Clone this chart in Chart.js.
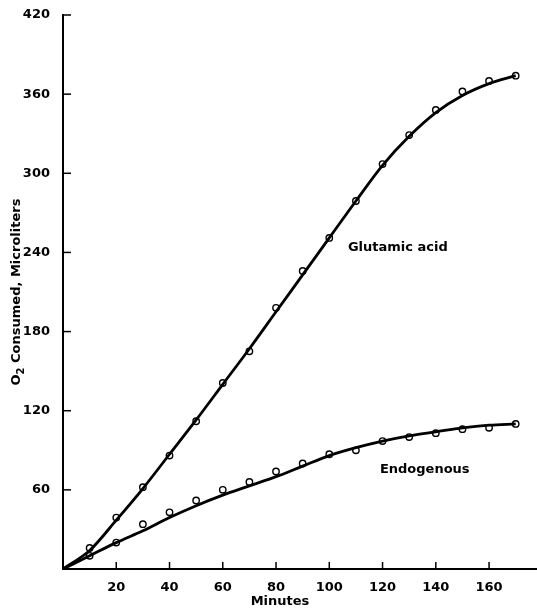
<!DOCTYPE html>
<html>
<head>
<meta charset="utf-8">
<script src="https://cdn.jsdelivr.net/npm/chart.js@4/dist/chart.umd.min.js"></script>
<style>
  html, body { margin: 0; padding: 0; background: #fff; overflow: hidden; }
  #wrap { width: 537px; height: 610px; }
</style>
</head>
<body>
<div id="wrap"><canvas id="chart"></canvas></div>
<script>
// Measured points (open circles)
const minutes = [10, 20, 30, 40, 50, 60, 70, 80, 90, 100, 110, 120, 130, 140, 150, 160, 170];
const glutamicPts = [16, 39, 62, 86, 112, 141, 165, 198, 226, 251, 279, 307, 329, 348, 362, 370, 374];
const endogenousPts = [10, 20, 34, 43, 52, 60, 66, 74, 80, 87, 90, 97, 100, 103, 106, 107, 110];

// Smooth fitted curves as drawn in the figure
const curveMinutes = [0, 10, 20, 30, 40, 50, 60, 70, 80, 90, 100, 110, 120, 130, 140, 150, 160, 170];
const glutamicCurve = [0, 14, 37, 61, 87, 113, 140, 167, 195, 223, 251, 279, 306, 328, 346, 359, 368, 374];
const endogenousCurve = [0, 10, 20, 29, 39, 48, 56, 63, 70, 78, 86, 92, 97, 101, 104, 107, 109, 110];

const xTicks = [20, 40, 60, 80, 100, 120, 140, 160];
const yTicks = [60, 120, 180, 240, 300, 360, 420];

const FONT = 'DejaVu Sans';

function pairs(xs, ys) {
    return xs.map((x, i) => ({ x: x, y: ys[i] }));
}

// inward tick marks, curve labels and axis titles
const decorPlugin = {
    id: 'decor',
    afterDraw(chart) {
        const ctx = chart.ctx;
        const xs = chart.scales.x;
        const ys = chart.scales.y;
        const area = chart.chartArea;
        ctx.save();
        ctx.strokeStyle = '#000';
        ctx.lineWidth = 1.5;
        xTicks.forEach(v => {
            const px = xs.getPixelForValue(v);
            ctx.beginPath();
            ctx.moveTo(px, area.bottom);
            ctx.lineTo(px, area.bottom - 7);
            ctx.stroke();
        });
        yTicks.forEach(v => {
            const py = ys.getPixelForValue(v);
            ctx.beginPath();
            ctx.moveTo(area.left, py);
            ctx.lineTo(area.left + 8, py);
            ctx.stroke();
        });

        ctx.fillStyle = '#000';
        ctx.font = 'bold 13px "' + FONT + '"';
        ctx.textBaseline = 'middle';
        ctx.textAlign = 'left';
        ctx.fillText('Glutamic acid', xs.getPixelForValue(107), ys.getPixelForValue(244));
        ctx.fillText('Endogenous', xs.getPixelForValue(119), ys.getPixelForValue(75));

        // x title
        ctx.textAlign = 'center';
        ctx.fillText('Minutes', 280, 602);

        // y title, rotated, with subscript 2
        ctx.translate(17, (area.top + area.bottom) / 2);
        ctx.rotate(-Math.PI / 2);
        const main = ' Consumed, Microliters';
        const wO = ctx.measureText('O').width;
        ctx.font = 'bold 10px "' + FONT + '"';
        const w2 = ctx.measureText('2').width;
        ctx.font = 'bold 13px "' + FONT + '"';
        const wMain = ctx.measureText(main).width;
        let start = -(wO + w2 + wMain) / 2;
        ctx.textAlign = 'left';
        ctx.fillText('O', start, 0);
        ctx.font = 'bold 10px "' + FONT + '"';
        ctx.fillText('2', start + wO, 4);
        ctx.font = 'bold 13px "' + FONT + '"';
        ctx.fillText(main, start + wO + w2, 0);
        ctx.restore();
    }
};

const curveStyle = {
    showLine: true,
    borderColor: '#000',
    borderWidth: 2.8,
    pointRadius: 0,
    tension: 0.4,
    cubicInterpolationMode: 'monotone',
    fill: false
};

const pointStyle = {
    showLine: false,
    pointRadius: 3.2,
    pointBorderWidth: 1.4,
    pointBorderColor: '#000',
    pointBackgroundColor: '#fff'
};

new Chart(document.getElementById('chart'), {
    type: 'scatter',
    data: {
        datasets: [
            Object.assign({ label: 'Glutamic acid curve', data: pairs(curveMinutes, glutamicCurve) }, curveStyle),
            Object.assign({ label: 'Endogenous curve', data: pairs(curveMinutes, endogenousCurve) }, curveStyle),
            Object.assign({ label: 'Glutamic acid', data: pairs(minutes, glutamicPts) }, pointStyle),
            Object.assign({ label: 'Endogenous', data: pairs(minutes, endogenousPts) }, pointStyle)
        ]
    },
    options: {
        responsive: true,
        maintainAspectRatio: false,
        animation: false,
        layout: { autoPadding: false, padding: { top: 15, right: 0, left: 0, bottom: 0 } },
        plugins: {
            legend: { display: false },
            tooltip: { enabled: false }
        },
        scales: {
            x: {
                type: 'linear',
                min: 0,
                max: 178,
                afterBuildTicks: s => { s.ticks = xTicks.map(v => ({ value: v })); },
                afterFit: s => { s.height = 41; s.paddingRight = 0; s.paddingLeft = 0; },
                grid: { display: false },
                border: { display: true, color: '#000', width: 2 },
                ticks: {
                    color: '#000',
                    padding: 3,
                    maxRotation: 0,
                    font: { family: FONT, size: 13, weight: 'bold' }
                }
            },
            y: {
                min: 0,
                max: 420,
                afterBuildTicks: s => { s.ticks = yTicks.map(v => ({ value: v })); },
                afterFit: s => { s.width = 63; s.paddingTop = 0; s.paddingBottom = 0; },
                grid: { display: false },
                border: { display: true, color: '#000', width: 2 },
                ticks: {
                    color: '#000',
                    padding: 5,
                    font: { family: FONT, size: 13, weight: 'bold' }
                }
            }
        }
    },
    plugins: [decorPlugin]
});
</script>
</body>
</html>
